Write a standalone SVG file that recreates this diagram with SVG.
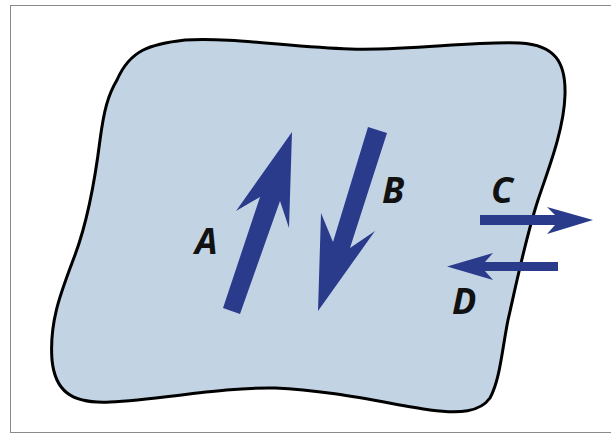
<svg xmlns="http://www.w3.org/2000/svg" width="611" height="434" viewBox="0 0 611 434">
<style>
.arrow{fill:#2a3b8c;stroke:none}
.lbl{font-family:"Open Sans","Liberation Sans",sans-serif;font-weight:bold;font-style:italic;font-size:36px;fill:#111}
</style>
<rect x="0" y="0" width="611" height="434" fill="#ffffff"/>
<rect x="10.5" y="5.5" width="610" height="427" fill="none" stroke="#8a8a8a" stroke-width="1"/>
<g id="region">
<path d="M117,80 C130,50 150,44 185,40 C230,37 290,47 350,49 C410,51 470,41 520,43 C555,45 566,62 565,95 C564,130 548,170 538,200 C525,240 515,290 508,320 C502,350 500,380 490,398 C480,412 460,414 430,410 C390,404 330,390 275,388 C220,387 160,400 110,402 C70,404 55,390 52,360 C49,320 62,290 75,255 C88,220 95,180 100,140 C104,110 108,95 117,80 Z" fill="#c2d4e4" stroke="#000" stroke-width="3"/>
</g>
<g id="connectors">
<polygon id="arrowA" class="arrow" points="223,308 260,197 236,211 292,132 289,228 280,201 240,314"/>
<polygon id="arrowB" class="arrow" points="368,127 333,242 321,213 318,311 375,231 350,248 387,133"/>
<polygon id="arrowC" class="arrow" points="480,215 555,215 547,207 593,220 547,234 555,225 480,225"/>
<polygon id="arrowD" class="arrow" points="558,262 485,262 493,253 447,266.5 493,280 485,271 558,271"/>
</g>
<g id="labelA"><text class="lbl" x="195" y="254">A</text></g>
<g id="labelB"><text class="lbl" x="382" y="203">B</text></g>
<g id="labelC"><text class="lbl" x="491" y="203">C</text></g>
<g id="labelD"><text class="lbl" x="452" y="314">D</text></g>
</svg>
